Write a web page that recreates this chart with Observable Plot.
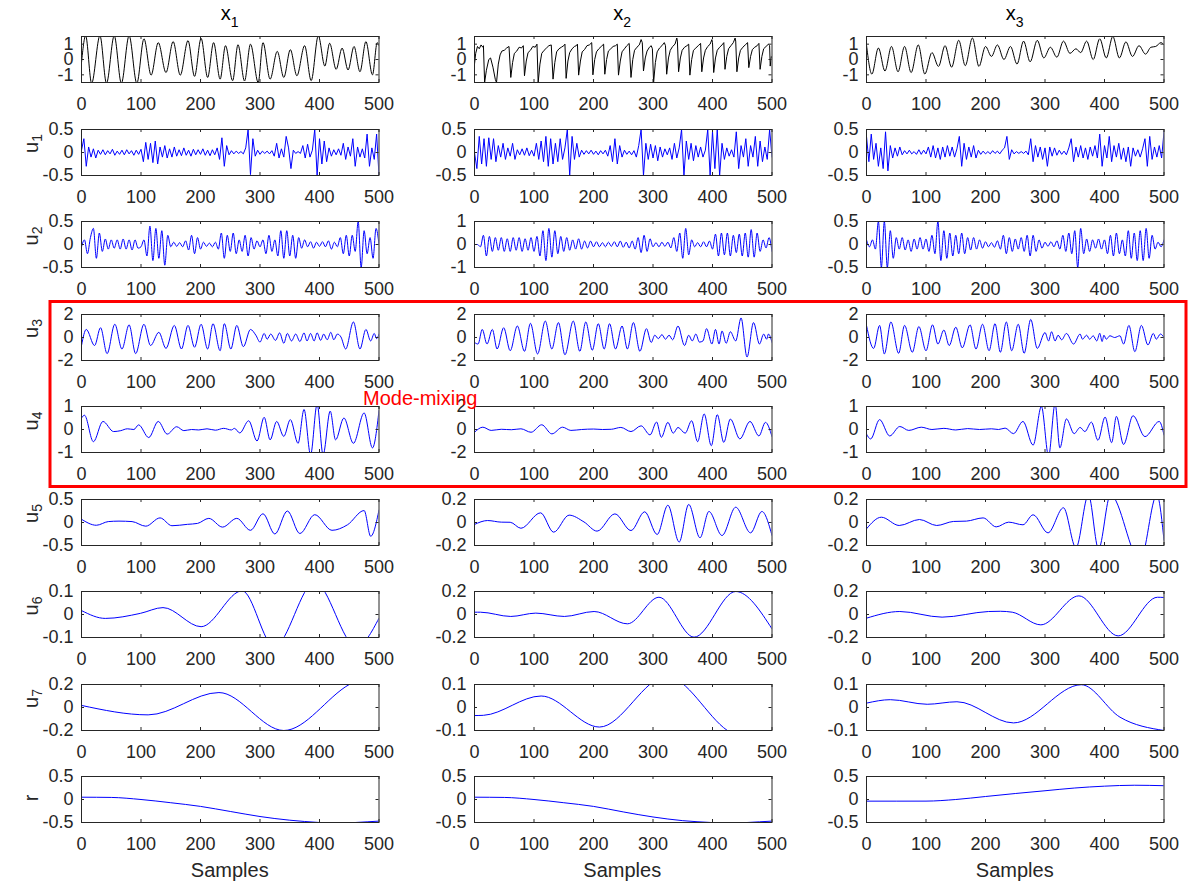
<!DOCTYPE html>
<html>
<head>
<meta charset="utf-8">
<script src="https://cdn.jsdelivr.net/npm/d3@7"></script>
<script src="https://cdn.jsdelivr.net/npm/@observablehq/plot@0.6"></script>
<style>
  html, body { margin: 0; padding: 0; background: #ffffff; }
  #fig { position: relative; width: 1190px; height: 882px; overflow: hidden; background: #ffffff;
         font-family: "Liberation Sans", Arial, Helvetica, sans-serif; }
  .panel { position: absolute; }
  #overlay { position: absolute; left: 0; top: 0; }
</style>
</head>
<body>
<div id="fig"></div>
<script>
// ---------------- DATA ----------------
const sampleDomain = [0, 500];
const sampleTicks = [0, 100, 200, 300, 400, 500];
const columnIndex = ["1", "2", "3"];
const rowSubscripts = [null, "1", "2", "3", "4", "5", "6", "7", "r"];
const xLabel = "Samples";
const annotationText = "Mode-mixing";

// input signals [sample, value] (extrema)
const x1_c1 = [[0,-0.2],[7,1.55],[17,-1.55],[31,1.55],[42,-1.55],[55,1.55],[67,-1.55],[80,1.55],[93,-1.55],[105,1.35],[117,-1.02],[129,1.1],[142,-0.85],[154,1.17],[166,-1.02],[179,1.23],[190,-1.1],[201,1.38],[212,-1.17],[222,1.1],[233,-1.28],[242,0.9],[254,-1.38],[263,0.96],[274,-1.4],[284,1.0],[297,-1.5],[305,1.1],[317,-1.28],[329,0.53],[340,-1.17],[351,0.64],[362,-1.06],[375,0.9],[386,-1.38],[398,1.55],[409,-0.43],[417,1.06],[428,-0.64],[438,0.74],[448,-0.68],[458,0.85],[468,-0.8],[478,1.17],[489,-1.0],[497,1.1],[500,0.9]];
const x2_c2 = [[0,-0.3],[2,0.4],[5,0.85],[8,0.7],[11,0.95],[14,0.8],[15,0.9],
 [17,-1.5],[20,-0.7],[24,0.0],[27,0.1],[31,-0.5],[35,-1.3],[37,-1.5],
 [40,-0.3],[43,0.3],[46,0.55],[50,0.6],[54,0.75],[58,0.85],[61,-1.17],
 [64,-0.2],[67,0.4],[71,0.55],[75,0.8],[79,0.75],[82,0.9],[84,-1.06],
 [87,-0.1],[90,0.45],[94,0.6],[98,0.85],[102,0.8],[105,1.0],[107,-1.5],
 [110,-0.3],[113,0.4],[117,0.6],[121,0.75],[125,0.9],[129,0.95],[132,-1.28],
 [135,-0.2],[138,0.5],[142,0.7],[146,0.8],[150,0.9],[152,1.0],[154,-1.23],
 [157,-0.1],[160,0.45],[164,0.7],[168,0.85],[171,0.9],[173,1.0],[175,-1.02],
 [178,-0.1],[181,0.5],[185,0.65],[189,0.9],[193,0.95],[197,1.1],[199,-1.0],
 [202,0.0],[205,0.5],[209,0.7],[213,0.85],[217,1.0],[219,-0.96],
 [222,0.0],[225,0.55],[229,0.7],[233,0.85],[237,0.9],[240,1.0],[242,-1.02],
 [245,-0.1],[248,0.5],[252,0.7],[256,0.9],[260,1.05],[263,-1.17],
 [266,0.0],[269,0.6],[273,0.8],[277,0.95],[280,1.3],[282,1.1],[284,-0.75],
 [287,0.1],[290,0.55],[294,0.8],[297,0.9],[299,0.7],[301,-1.5],
 [304,-0.2],[307,0.5],[311,0.75],[315,0.9],[319,1.1],[321,0.9],[323,-0.96],
 [326,0.1],[329,0.6],[333,0.85],[337,1.0],[340,1.4],[341,1.2],[343,-0.8],
 [346,0.1],[349,0.6],[353,0.8],[357,0.9],[360,1.0],[362,-1.02],
 [365,0.0],[368,0.6],[372,0.75],[376,0.9],[380,1.05],[382,-0.8],
 [385,0.1],[388,0.6],[392,0.85],[396,1.0],[399,1.3],[400,1.1],[402,-0.85],
 [405,0.1],[408,0.6],[412,0.8],[416,0.95],[419,1.1],[421,-0.64],
 [424,0.2],[427,0.7],[431,0.9],[435,1.1],[438,1.4],[439,1.2],[441,-0.8],
 [444,0.1],[447,0.6],[451,0.8],[455,0.95],[459,1.1],[461,-0.53],
 [464,0.2],[467,0.65],[471,0.8],[475,0.9],[478,1.05],[480,-0.64],
 [483,0.2],[486,0.7],[490,0.85],[494,1.0],[496,0.9],[497,-0.43],
 [499,0.2],[500,0.1]];
const x3_c3 = [[0,0.95],[9,-0.95],[20,0.75],[31,-0.75],[42,0.85],[53,-0.8],[64,0.85],[75,-0.85],[87,0.95],[98,-0.95],[110,0.45],[121,-0.45],[132,0.9],[143,-0.5],[155,1.25],[166,-0.4],[178,1.4],[189,-0.45],[200,0.85],[210,0.2],[220,0.95],[231,0.0],[242,0.85],[253,-0.3],[264,1.2],[275,-0.15],[287,1.25],[298,0.1],[309,0.8],[320,0.15],[331,1.2],[342,0.4],[352,0.7],[360,0.45],[370,1.2],[381,0.0],[392,1.35],[403,0.1],[414,1.5],[425,0.1],[436,1.15],[447,0.2],[458,0.9],[469,0.35],[478,0.8],[486,0.85],[495,1.1],[500,0.95]];

// IMF 1 and 2: values every few samples
const u1Step = 4;
const u1_c1 = [0.05,0.3,-0.3,0.12,-0.1,0.08,-0.12,0.05,-0.04,0.06,
 -0.05,0.04,-0.03,0.07,-0.06,0.03,-0.04,0.05,-0.05,0.06,
 -0.03,0.04,-0.06,0.05,-0.04,0.07,-0.2,0.22,-0.15,0.2,
 -0.22,0.25,-0.25,0.12,-0.1,0.15,-0.12,0.08,-0.1,0.12,
 -0.08,0.06,-0.07,0.1,-0.06,0.05,-0.08,0.07,-0.05,0.06,
 -0.04,0.08,-0.06,0.05,-0.07,0.06,-0.05,0.1,-0.15,0.32,
 -0.3,0.15,-0.05,0.04,-0.03,0.03,-0.02,0.02,-0.03,0.1,
 0.5,-0.48,0.3,-0.08,0.05,-0.04,0.03,-0.02,0.03,-0.03,
 0.04,-0.08,0.2,-0.12,0.08,-0.1,0.35,0.1,-0.35,0.05,
 -0.02,0.02,-0.02,0.15,-0.12,0.18,-0.1,0.05,0.5,-0.5,
 0.3,-0.25,0.25,-0.2,0.1,-0.08,0.06,-0.05,0.08,-0.06,
 0.2,-0.15,0.12,-0.08,0.3,-0.3,0.12,-0.1,0.08,-0.12,
 0.4,-0.3,0.1,-0.15,0.4,-0.5];
const u1_c2 = [0.0,-0.35,0.35,-0.25,0.3,-0.3,0.32,-0.15,0.3,-0.2,
 0.15,-0.1,0.2,-0.15,0.1,-0.08,0.2,-0.15,0.06,-0.05,
 0.08,-0.06,0.1,-0.07,0.05,-0.08,0.2,-0.15,0.25,-0.2,
 0.35,-0.3,0.3,-0.25,0.2,-0.2,0.3,-0.15,0.1,0.5,
 -0.5,0.35,-0.15,0.2,-0.1,0.05,-0.04,0.04,-0.03,0.05,
 -0.04,0.03,-0.05,0.04,-0.03,0.05,-0.08,0.15,-0.2,0.3,
 -0.25,0.15,-0.1,0.05,-0.04,0.03,-0.05,0.04,-0.1,0.15,
 0.5,-0.5,0.2,-0.15,0.18,-0.12,0.15,-0.18,0.12,-0.1,
 0.08,-0.05,0.1,-0.15,0.2,-0.12,0.1,0.5,-0.5,0.25,
 -0.15,0.2,-0.18,0.15,-0.1,0.12,-0.1,0.05,0.5,-0.5,
 0.45,-0.35,0.5,-0.5,0.2,-0.15,0.1,-0.08,0.06,-0.1,
 0.45,-0.35,0.15,-0.1,0.3,-0.3,0.15,-0.1,0.35,-0.3,
 0.25,-0.2,0.12,-0.15,0.5,-0.1];
const u1_c3 = [0.35,-0.2,0.4,-0.15,0.2,-0.3,0.1,-0.35,0.45,-0.4,
 0.15,-0.12,0.1,-0.08,0.12,-0.05,0.04,-0.03,0.05,-0.03,
 0.02,-0.04,0.06,-0.04,0.05,-0.03,0.12,-0.1,0.15,-0.12,
 0.1,-0.15,0.12,-0.1,0.15,-0.08,0.12,-0.1,0.08,0.35,
 -0.3,0.2,-0.15,0.12,-0.1,0.15,-0.12,0.05,-0.04,0.03,
 -0.03,0.02,-0.03,0.04,-0.02,0.03,-0.03,0.05,0.1,0.35,
 -0.15,0.06,-0.03,0.02,-0.02,0.02,-0.02,0.03,-0.05,0.3,
 -0.2,0.15,-0.1,0.12,-0.15,0.1,-0.3,0.12,-0.08,0.1,
 -0.06,0.05,-0.04,0.03,-0.05,0.1,0.3,-0.2,0.12,-0.1,
 0.15,-0.12,0.1,-0.15,0.12,-0.08,0.15,-0.12,0.4,-0.3,
 0.15,-0.12,0.35,-0.2,0.15,-0.1,0.2,-0.15,0.1,-0.2,
 0.12,-0.3,0.1,-0.08,0.06,-0.1,0.08,0.3,-0.3,0.35,
 -0.15,0.12,-0.1,0.15,-0.12,0.45];

const u2Step = 5;
const u2_c1 = [-0.05,0.1,-0.2,0.15,0.35,-0.3,0.25,-0.15,0.12,-0.1,
 0.1,-0.08,0.1,-0.1,0.12,-0.1,0.1,-0.12,0.1,-0.08,
 -0.05,0.1,-0.25,0.4,-0.35,0.35,-0.3,0.3,-0.45,0.2,
 -0.05,0.05,-0.04,0.04,-0.05,0.08,-0.12,0.2,-0.2,0.15,
 -0.1,0.05,-0.04,0.03,-0.05,0.05,-0.1,0.25,-0.3,0.2,
 -0.15,0.25,-0.2,0.1,-0.15,0.2,-0.25,0.15,-0.1,0.08,
 -0.05,0.1,-0.2,0.2,-0.15,0.1,-0.25,0.3,-0.3,0.3,
 -0.25,0.2,-0.3,0.15,-0.08,0.1,-0.05,0.06,-0.08,0.05,
 -0.04,0.06,-0.05,0.08,-0.1,0.05,-0.05,0.15,-0.2,0.2,
 -0.25,0.2,-0.15,0.5,-0.5,0.3,-0.2,0.15,-0.3,0.35,
 0.0];
const u2_c2 = [0.0,0.0,-0.1,0.4,-0.5,0.35,-0.3,0.3,-0.25,0.3,
 -0.3,0.25,-0.3,0.3,-0.25,0.3,-0.3,0.25,-0.25,0.3,
 -0.3,0.35,-0.5,0.6,-0.7,0.7,-0.55,0.6,-0.4,0.35,
 -0.3,0.3,-0.25,0.2,-0.2,0.25,-0.2,0.15,-0.15,0.15,
 -0.1,0.12,-0.1,0.08,-0.1,0.1,-0.08,0.12,-0.1,0.15,
 -0.12,0.1,-0.15,0.15,-0.2,0.3,-0.35,0.4,-0.3,0.25,
 -0.1,0.08,-0.1,0.1,-0.08,0.1,-0.15,0.3,-0.3,0.5,
 -0.6,0.7,-0.45,0.2,-0.1,0.08,-0.1,0.12,-0.1,0.15,
 -0.2,0.45,-0.5,0.5,-0.45,0.5,-0.5,0.4,-0.35,0.45,
 -0.5,0.5,-0.55,0.65,-0.55,0.5,-0.3,0.2,-0.15,0.3,
 -0.3];
const u2_c3 = [0.1,-0.05,0.1,-0.1,0.5,-0.5,0.5,-0.5,0.3,-0.3,
 0.15,-0.1,0.15,-0.12,0.1,-0.15,0.12,-0.1,0.15,-0.1,
 0.12,-0.15,0.2,-0.2,0.5,-0.35,0.3,-0.3,0.25,-0.25,
 0.2,-0.2,0.25,-0.2,0.15,-0.12,0.15,-0.1,0.1,-0.08,
 0.06,-0.05,0.04,-0.06,0.08,-0.1,0.2,-0.2,0.15,-0.15,
 0.12,-0.1,0.15,-0.15,0.2,-0.25,0.2,-0.15,0.1,-0.08,
 0.05,-0.04,0.06,-0.05,0.08,-0.1,0.2,-0.15,0.25,-0.2,
 0.3,-0.5,0.35,-0.2,0.12,-0.15,0.1,-0.08,0.12,-0.1,
 0.1,-0.2,0.2,-0.25,0.25,-0.2,0.1,-0.25,0.3,-0.3,
 0.25,-0.35,0.3,-0.35,0.35,-0.3,0.2,-0.1,0.05,-0.05,
 0.1];

// IMF 3..7 and residue: [sample, value] extrema
const u3_c1 = [[0,-0.7],[8,0.7],[22,-0.7],[32,0.85],[43,-1.4],[56,1.15],[68,-1.0],[80,1.1],[91,-1.4],[105,1.15],[116,-0.7],[130,0.45],[142,-0.95],[156,1.05],[168,-1.0],[179,1.05],[190,-0.85],[201,1.15],[212,-1.0],[221,1.2],[233,-1.15],[240,1.2],[251,-1.0],[261,1.05],[272,-0.8],[284,0.7],[293,0.2],[300,-0.4],[307,0.35],[312,-0.15],[318,0.3],[326,-0.25],[333,0.4],[340,-0.5],[346,0.35],[353,-0.3],[360,0.3],[367,-0.35],[374,0.4],[379,-0.3],[385,0.35],[391,-0.3],[396,0.4],[402,-0.25],[407,0.3],[413,-0.2],[419,0.45],[424,-0.2],[430,0.3],[436,0.05],[444,-1.0],[457,1.35],[468,-1.0],[478,0.7],[486,-0.3],[492,0.35],[496,-0.1],[500,0.3]];
const u3_c2 = [[0,-0.43],[6,-0.57],[13,0.7],[21,-0.57],[30,0.7],[38,-1.0],[49,0.85],[60,-1.15],[72,1.0],[84,-1.2],[94,1.23],[106,-1.43],[119,1.43],[130,-1.0],[141,1.3],[152,-1.5],[166,1.43],[177,-1.2],[187,1.35],[198,-1.1],[208,1.2],[218,-1.0],[227,1.2],[237,-1.0],[248,1.0],[257,-1.0],[267,1.3],[278,-1.2],[289,0.77],[297,-0.43],[303,0.2],[309,-0.1],[315,0.25],[321,-0.15],[327,0.2],[333,-0.2],[342,1.0],[353,-0.7],[360,0.2],[366,-0.3],[372,0.3],[378,-0.4],[384,-0.3],[390,0.77],[399,-0.57],[405,0.7],[411,-0.57],[416,0.57],[423,-0.5],[430,0.5],[439,-0.3],[448,1.7],[458,-1.7],[469,1.3],[479,-0.57],[486,0.3],[491,-0.15],[494,0.3],[500,-0.43]];
const u3_c3 = [[0,1.05],[12,-0.95],[22,1.05],[30,-1.43],[41,1.35],[54,-1.37],[64,1.05],[77,-1.28],[88,0.95],[100,-1.15],[111,1.1],[120,-0.57],[130,0.65],[139,-0.7],[150,0.9],[161,-0.9],[174,1.1],[184,-1.0],[195,1.15],[206,-1.15],[216,1.2],[225,-1.28],[235,1.35],[244,-1.15],[255,1.15],[265,-1.37],[276,1.57],[287,-0.95],[300,0.43],[306,-0.3],[311,0.5],[317,-0.3],[322,0.2],[328,-0.2],[336,0.35],[348,-0.57],[359,0.3],[363,-0.15],[370,0.2],[375,-0.15],[381,0.15],[387,-0.3],[392,0.37],[396,-0.35],[399,0.2],[403,-0.15],[409,0.15],[417,0.0],[426,0.15],[432,-0.57],[441,1.05],[451,-1.23],[462,1.05],[473,-0.65],[482,0.35],[487,-0.15],[494,0.3],[500,0.0]];

const u4_c1 = [[0,0.5],[5,0.62],[20,-0.53],[36,0.35],[54,-0.09],[66,-0.05],[77,0.03],[88,0.0],[96,0.2],[113,-0.35],[129,0.35],[144,-0.2],[160,0.12],[172,-0.05],[185,0.0],[197,-0.02],[211,0.03],[225,-0.03],[239,0.05],[252,-0.02],[257,0.05],[266,-0.15],[281,0.38],[295,-0.5],[307,0.53],[317,-0.45],[328,0.35],[340,-0.3],[351,0.43],[364,-0.6],[374,0.87],[385,-1.1],[396,1.1],[406,-1.1],[418,0.8],[427,-0.45],[441,0.5],[457,-0.6],[475,0.72],[489,-0.8],[500,0.82]];
const u4_c2 = [[0,-0.24],[14,0.2],[28,-0.08],[45,0.02],[62,-0.02],[78,0.06],[95,-0.24],[113,0.41],[130,-0.38],[148,0.2],[162,-0.08],[180,0.0],[200,0.04],[215,0.0],[230,0.02],[246,0.18],[263,-0.18],[280,0.32],[295,-0.47],[306,0.65],[314,-0.68],[325,0.62],[334,-0.32],[342,0.18],[354,-0.32],[365,0.76],[375,-1.06],[386,1.35],[398,-1.41],[408,1.29],[419,-1.12],[430,0.91],[446,-0.82],[463,0.7],[478,-0.56],[489,0.62],[500,-0.62]];
const u4_c3 = [[0,-0.2],[7,-0.41],[22,0.43],[39,-0.28],[56,0.13],[71,-0.04],[92,0.1],[110,0.0],[130,0.05],[150,-0.02],[170,0.04],[190,0.0],[210,0.03],[222,0.0],[233,0.06],[247,-0.18],[263,0.35],[280,-0.68],[294,1.0],[306,-1.15],[317,1.12],[325,-0.8],[336,0.46],[349,-0.18],[359,0.09],[367,-0.09],[378,0.32],[389,-0.47],[401,0.54],[412,-0.57],[420,0.57],[432,-0.65],[448,0.6],[468,-0.31],[492,0.35],[500,-0.24]];

const u5_c1 = [[0,0.07],[25,-0.06],[45,0.02],[63,0.03],[85,0.02],[108,-0.08],[132,0.1],[152,-0.07],[178,-0.04],[195,-0.02],[214,0.09],[237,-0.1],[261,0.09],[284,-0.17],[305,0.19],[325,-0.25],[346,0.25],[367,-0.24],[392,0.17],[421,-0.17],[447,-0.05],[475,0.26],[486,-0.3],[500,0.27]];
const u5_c2 = [[0,-0.017],[22,0.017],[45,0.003],[60,0.002],[78,-0.05],[111,0.084],[133,-0.084],[159,0.064],[184,0.005],[206,-0.075],[236,0.075],[263,-0.07],[286,0.093],[307,-0.104],[325,0.15],[344,-0.17],[360,0.157],[379,-0.133],[394,0.096],[416,-0.113],[439,0.133],[464,-0.09],[483,0.096],[500,-0.113]];
const u5_c3 = [[0,-0.055],[25,0.046],[55,-0.026],[89,0.026],[118,-0.026],[146,0.009],[168,0.012],[196,0.04],[218,-0.038],[239,0.003],[263,-0.02],[280,0.067],[305,-0.09],[331,0.128],[352,-0.22],[373,0.24],[390,-0.23],[410,0.24],[460,-0.33],[488,0.24],[500,-0.154]];

const u6_c1 = [[0,0.017],[40,-0.017],[99,0.005],[137,0.03],[201,-0.053],[270,0.103],[324,-0.14],[392,0.14],[462,-0.14],[500,-0.016]];
const u6_c2 = [[0,0.02],[10,0.02],[61,-0.017],[103,0.012],[151,-0.017],[201,0.026],[257,-0.081],[310,0.15],[369,-0.197],[439,0.2],[500,-0.125]];
const u6_c3 = [[0,-0.032],[56,0.026],[127,-0.023],[205,0.026],[225,0.028],[245,0.02],[293,-0.09],[357,0.162],[423,-0.186],[489,0.15],[500,0.148]];

const u7_c1 = [[0,0.018],[112,-0.064],[231,0.13],[340,-0.2],[450,0.2],[480,0.28],[500,0.32]];
const u7_c2 = [[0,-0.035],[15,-0.034],[112,0.05],[210,-0.085],[323,0.135],[425,-0.1],[500,-0.2]];
const u7_c3 = [[0,0.019],[40,0.034],[102,0.014],[152,0.025],[247,-0.067],[361,0.099],[426,-0.042],[500,-0.1]];

const r_c1 = [[0,0.05],[50,0.045],[100,0.0],[150,-0.07],[200,-0.15],[250,-0.26],[300,-0.37],[350,-0.45],[400,-0.5],[430,-0.52],[460,-0.5],[500,-0.47]];
const r_c2 = [[0,0.05],[50,0.045],[100,0.0],[150,-0.07],[200,-0.15],[250,-0.27],[300,-0.38],[350,-0.46],[398,-0.5],[430,-0.52],[458,-0.5],[500,-0.47]];
const r_c3 = [[0,-0.036],[100,-0.035],[150,0.0],[200,0.065],[250,0.13],[300,0.19],[350,0.25],[400,0.29],[450,0.31],[500,0.3]];

// y-axis limits and tick values of each panel
const limX = [-1.5, 1.5], ticksX = [-1, 0, 1];
const lim05 = [-0.5, 0.5], ticks05 = [-0.5, 0, 0.5];
const lim1 = [-1, 1], ticks1 = [-1, 0, 1];
const lim2 = [-2, 2], ticks2 = [-2, 0, 2];
const lim02 = [-0.2, 0.2], ticks02 = [-0.2, 0, 0.2];
const lim01 = [-0.1, 0.1], ticks01 = [-0.1, 0, 0.1];

// ---------------- LAYOUT / STYLE ----------------
const BLACK = "#000000", BLUE = "#0000ff", AXIS = "#262626";
const FONT = '"Liberation Sans", Arial, Helvetica, sans-serif';
const colLeft = [81, 473.5, 866];
const plotW = 297.5, plotH = 46;
const rowTop = i => 36 + 92.5 * i;
const ML = 60, MR = 30, MT = 6, MB = 32;

const fromPairs = arr => arr.map(([t, v]) => ({t, v}));
const fromStep = (arr, step) => arr.map((v, i) => ({t: i * step, v}));

const panels = [
  {row: 0, col: 0, data: fromPairs(x1_c1), lim: limX, ticks: ticksX, color: BLACK, curve: "monotone-x"},
  {row: 0, col: 1, data: fromPairs(x2_c2), lim: limX, ticks: ticksX, color: BLACK, curve: "linear"},
  {row: 0, col: 2, data: fromPairs(x3_c3), lim: limX, ticks: ticksX, color: BLACK, curve: "monotone-x"},
  {row: 1, col: 0, data: fromStep(u1_c1, u1Step), lim: lim05, ticks: ticks05, color: BLUE, curve: "linear"},
  {row: 1, col: 1, data: fromStep(u1_c2, u1Step), lim: lim05, ticks: ticks05, color: BLUE, curve: "linear"},
  {row: 1, col: 2, data: fromStep(u1_c3, u1Step), lim: lim05, ticks: ticks05, color: BLUE, curve: "linear"},
  {row: 2, col: 0, data: fromStep(u2_c1, u2Step), lim: lim05, ticks: ticks05, color: BLUE, curve: "monotone-x"},
  {row: 2, col: 1, data: fromStep(u2_c2, u2Step), lim: lim1, ticks: ticks1, color: BLUE, curve: "monotone-x"},
  {row: 2, col: 2, data: fromStep(u2_c3, u2Step), lim: lim05, ticks: ticks05, color: BLUE, curve: "monotone-x"},
  {row: 3, col: 0, data: fromPairs(u3_c1), lim: lim2, ticks: ticks2, color: BLUE, curve: "monotone-x"},
  {row: 3, col: 1, data: fromPairs(u3_c2), lim: lim2, ticks: ticks2, color: BLUE, curve: "monotone-x"},
  {row: 3, col: 2, data: fromPairs(u3_c3), lim: lim2, ticks: ticks2, color: BLUE, curve: "monotone-x"},
  {row: 4, col: 0, data: fromPairs(u4_c1), lim: lim1, ticks: ticks1, color: BLUE, curve: "monotone-x"},
  {row: 4, col: 1, data: fromPairs(u4_c2), lim: lim2, ticks: ticks2, color: BLUE, curve: "monotone-x"},
  {row: 4, col: 2, data: fromPairs(u4_c3), lim: lim1, ticks: ticks1, color: BLUE, curve: "monotone-x"},
  {row: 5, col: 0, data: fromPairs(u5_c1), lim: lim05, ticks: ticks05, color: BLUE, curve: "monotone-x"},
  {row: 5, col: 1, data: fromPairs(u5_c2), lim: lim02, ticks: ticks02, color: BLUE, curve: "monotone-x"},
  {row: 5, col: 2, data: fromPairs(u5_c3), lim: lim02, ticks: ticks02, color: BLUE, curve: "monotone-x"},
  {row: 6, col: 0, data: fromPairs(u6_c1), lim: lim01, ticks: ticks01, color: BLUE, curve: "monotone-x"},
  {row: 6, col: 1, data: fromPairs(u6_c2), lim: lim02, ticks: ticks02, color: BLUE, curve: "monotone-x"},
  {row: 6, col: 2, data: fromPairs(u6_c3), lim: lim02, ticks: ticks02, color: BLUE, curve: "monotone-x"},
  {row: 7, col: 0, data: fromPairs(u7_c1), lim: lim02, ticks: ticks02, color: BLUE, curve: "monotone-x"},
  {row: 7, col: 1, data: fromPairs(u7_c2), lim: lim01, ticks: ticks01, color: BLUE, curve: "monotone-x"},
  {row: 7, col: 2, data: fromPairs(u7_c3), lim: lim01, ticks: ticks01, color: BLUE, curve: "monotone-x"},
  {row: 8, col: 0, data: fromPairs(r_c1), lim: lim05, ticks: ticks05, color: BLUE, curve: "monotone-x"},
  {row: 8, col: 1, data: fromPairs(r_c2), lim: lim05, ticks: ticks05, color: BLUE, curve: "monotone-x"},
  {row: 8, col: 2, data: fromPairs(r_c3), lim: lim05, ticks: ticks05, color: BLUE, curve: "monotone-x"}
];

const fig = document.getElementById("fig");
const fmt = d => String(d);

for (const p of panels) {
  const chart = Plot.plot({
    width: ML + plotW + MR,
    height: MT + plotH + MB,
    marginLeft: ML, marginRight: MR, marginTop: MT, marginBottom: MB,
    x: {domain: sampleDomain},
    y: {domain: p.lim},
    style: {fontFamily: FONT, fontSize: "18px", color: AXIS, background: "transparent", overflow: "visible"},
    marks: [
      Plot.line(p.data, {x: "t", y: "v", stroke: p.color, strokeWidth: 1, curve: p.curve, clip: true}),
      Plot.ruleX(sampleTicks, {x: d => d, insetTop: plotH - 3, stroke: AXIS, strokeWidth: 1}),
      Plot.ruleX(sampleTicks, {x: d => d, insetBottom: plotH - 3, stroke: AXIS, strokeWidth: 1}),
      Plot.ruleY(p.ticks, {y: d => d, insetRight: plotW - 3, stroke: AXIS, strokeWidth: 1}),
      Plot.ruleY(p.ticks, {y: d => d, insetLeft: plotW - 3, stroke: AXIS, strokeWidth: 1}),
      Plot.frame({stroke: AXIS, strokeWidth: 1}),
      Plot.axisX({ticks: sampleTicks, tickSize: 0, tickPadding: 15, label: null, tickFormat: fmt, fontSize: 18, fill: AXIS}),
      Plot.axisY({ticks: p.ticks, tickSize: 0, tickPadding: 8, label: null, tickFormat: fmt, fontSize: 18, fill: AXIS})
    ]
  });
  chart.classList.add("panel");
  chart.style.left = (colLeft[p.col] - ML) + "px";
  chart.style.top = (rowTop(p.row) - MT) + "px";
  fig.appendChild(chart);
}

// ---------------- OVERLAY (titles, labels, annotation) ----------------
const NS = "http://www.w3.org/2000/svg";
const ov = document.createElementNS(NS, "svg");
ov.setAttribute("id", "overlay");
ov.setAttribute("width", 1190);
ov.setAttribute("height", 882);
ov.style.fontFamily = FONT;
let html = "";
columnIndex.forEach((c, j) => {
  const cx = colLeft[j] + plotW / 2;
  html += `<text x="${cx}" y="20" text-anchor="middle" font-size="20" fill="${BLACK}">x<tspan dy="7" font-size="14">${c}</tspan></text>`;
  html += `<text x="${cx}" y="877" text-anchor="middle" font-size="20" fill="${AXIS}">${xLabel}</text>`;
});
rowSubscripts.forEach((s, i) => {
  if (s === null) return;
  const cy = rowTop(i) + plotH / 2;
  if (s === "r") {
    html += `<text transform="translate(38,${cy - 1}) rotate(-90)" text-anchor="middle" font-size="20" fill="${AXIS}">r</text>`;
  } else {
    html += `<text transform="translate(38,${cy - 8}) rotate(-90)" text-anchor="middle" font-size="20" fill="${AXIS}">u<tspan dy="3.5" font-size="14">${s}</tspan></text>`;
  }
});
html += `<rect x="50" y="301.5" width="1136" height="185" fill="none" stroke="#ff0000" stroke-width="3"/>`;
html += `<text x="363" y="405" font-size="20" fill="#ff0000">${annotationText}</text>`;
ov.innerHTML = html;
fig.appendChild(ov);
</script>
</body>
</html>
